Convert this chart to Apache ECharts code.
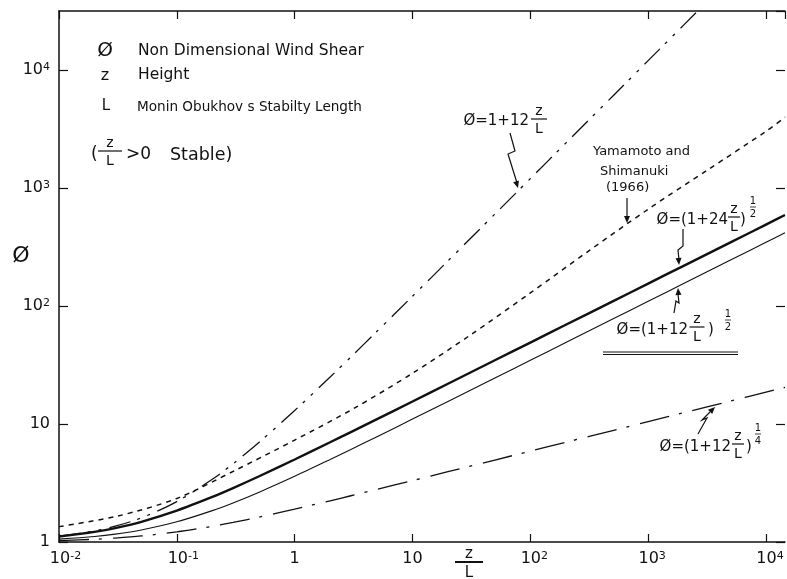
<!DOCTYPE html>
<html>
<head>
<meta charset="utf-8">
<script src="https://cdn.jsdelivr.net/npm/echarts@6/dist/echarts.min.js"></script>
<style>
html,body{margin:0;padding:0;background:#fff;}
#c{width:787px;height:579px;}
</style>
</head>
<body>
<div id="c"></div>
<script>
// ---- data ----
const zL        = [0.01, 0.02, 0.03, 0.05, 0.1, 0.2, 0.3, 0.5, 1, 2, 3, 5, 10, 20, 50, 100, 200, 500, 1000, 2000, 5000, 10000, 14500];
const linear12  = [1.12, 1.24, 1.36, 1.6, 2.2, 3.4, 4.6, 7, 13, 25, 37, 61, 121, 241, 601, 1201, 2401, 6001, 12001, 24001, 60001, null, null];
const sqrt24    = [1.114, 1.217, 1.311, 1.483, 1.844, 2.408, 2.864, 3.606, 5, 7, 8.544, 11, 15.52, 21.93, 34.66, 49, 69.29, 109.5, 154.9, 219.1, 346.4, 489.9, 589.9];
const sqrt12    = [1.058, 1.114, 1.166, 1.265, 1.483, 1.844, 2.145, 2.646, 3.606, 5, 6.083, 7.81, 11, 15.52, 24.52, 34.66, 49, 77.47, 109.5, 154.9, 244.9, 346.4, 417.1];
const quart12   = [1.029, 1.055, 1.080, 1.125, 1.218, 1.358, 1.465, 1.627, 1.899, 2.236, 2.466, 2.795, 3.317, 3.940, 4.952, 5.887, 7.0, 8.802, 10.46, 12.45, 15.65, 18.61, 20.42];
const yamZL     = [0.01, 0.0316, 0.1, 0.316, 1, 3.16, 10, 31.6, 100, 316, 1000, 3162, 10000, 14500];
const yamamoto  = [1.35, 1.66, 2.34, 4.07, 7.3, 13.5, 26.9, 57.5, 129, 295, 661, 1413, 3020, 3980];

const xTickValues = [0.01, 0.1, 1, 10, 100, 1000, 10000];
const xTickLabels = ['{p2|}10{s|-2}', '{p2|}10{s|-1}', '1', '10', '{p1|}10{s|2}', '{p1|}10{s|3}', '{p1|}10{s|4}'];
const yTickValues = [1, 10, 100, 1000, 10000];
const yTickLabels = ['1', '10', '10{s|2}', '10{s|3}', '10{s|4}'];

const FONT = '"DejaVu Sans", "Liberation Sans", sans-serif';
const INK = '#111';

function tickFmt(values, labels) {
  return function (v) {
    for (let i = 0; i < values.length; i++) {
      if (Math.abs(Math.log10(v) - Math.log10(values[i])) < 1e-6) return labels[i];
    }
    return '';
  };
}
const richSup = {
  s: { fontSize: 11, fontFamily: FONT, color: INK, verticalAlign: 'top', lineHeight: 11 },
  p1: { width: 8 },
  p2: { width: 13 }
};

function pairs(xs, ys) { return xs.map((x, i) => [x, ys[i]]); }

// ---- annotation helpers (text only) ----
function T(x, y, text, size, align) {
  return { type: 'text', x: x, y: y, silent: true,
    style: { text: text, fontSize: size, fontFamily: FONT, fill: INK,
             textAlign: align || 'left', textVerticalAlign: 'middle' } };
}
function P(points, w) {
  return { type: 'polyline', silent: true, shape: { points: points },
    style: { stroke: INK, lineWidth: w || 1.2, fill: null } };
}
function Frac(xc, yc, num, den, size, w, bw) {
  return [
    T(xc, yc - size * 0.55, num, size, 'center'),
    P([[xc - w / 2, yc], [xc + w / 2, yc]], bw || 1.2),
    T(xc, yc + size * 0.72, den, size, 'center')
  ];
}
function Head(tip, from) {
  const dx = tip[0] - from[0], dy = tip[1] - from[1];
  const len = Math.sqrt(dx * dx + dy * dy);
  const ux = dx / len, uy = dy / len;
  const bx = tip[0] - ux * 7, by = tip[1] - uy * 7;
  return { type: 'polygon', silent: true,
    shape: { points: [tip, [bx - uy * 3, by + ux * 3], [bx + uy * 3, by - ux * 3]] },
    style: { fill: INK } };
}

const graphics = [].concat(
  // key at top left
  [T(105, 51, 'Ø', 20, 'center'), T(138, 51, 'Non Dimensional Wind Shear', 15.5),
   T(105, 76, 'z', 16, 'center'), T(138, 75, 'Height', 15.5),
   T(106, 106, 'L', 15, 'center'), T(137, 107, 'Monin Obukhov s Stabilty Length', 13.6),
   T(91, 155, '(', 17)],
  Frac(110, 151, 'z', 'L', 14, 24),
  [T(126, 155, '>0', 17), T(170, 155, 'Stable)', 17.5)],
  // axis names
  [T(21, 256, 'Ø', 22, 'center')],
  Frac(469, 562, 'z', 'L', 15, 28, 2),
  // phi = 1 + 12 z/L
  [T(529, 121, 'Ø=1+12', 15, 'right')],
  Frac(539, 119, 'z', 'L', 14, 16),
  [P([[510, 133], [515, 151], [508, 154], [517, 183]]), Head([518, 188], [508, 154])],
  // Yamamoto and Shimanuki
  [T(593, 152, 'Yamamoto and', 13), T(600, 172, 'Shimanuki', 13), T(606, 188, '(1966)', 13),
   P([[627, 198], [627, 218]]), Head([627, 223], [627, 198])],
  // phi = (1 + 24 z/L)^1/2
  [T(728, 220, 'Ø=(1+24', 15, 'right')],
  Frac(734, 217, 'z', 'L', 14, 12),
  [T(740, 220, ')', 15)],
  Frac(753, 207, '1', '2', 10, 6, 0.8),
  [P([[683, 229], [683, 246], [678, 250], [679, 260]]), Head([679, 265], [678, 250])],
  // phi = (1 + 12 z/L)^1/2
  [T(688, 330, 'Ø=(1+12', 15, 'right')],
  Frac(697, 327, 'z', 'L', 14, 15),
  [T(708, 330, ')', 15)],
  Frac(728, 320, '1', '2', 10, 6, 0.8),
  [P([[603, 352], [738, 352]], 1.2), P([[603, 354.5], [738, 354.5]], 1.2),
   P([[674, 313], [676, 301], [679, 303], [678, 294]]), Head([678, 288], [679, 303])],
  // phi = (1 + 12 z/L)^1/4
  [T(731, 447, 'Ø=(1+12', 15, 'right')],
  Frac(738, 444, 'z', 'L', 14, 12),
  [T(746, 447, ')', 15)],
  Frac(758, 434, '1', '4', 10, 6, 0.8),
  [P([[698, 434], [707, 418], [702, 420], [710, 412]]), Head([715, 407], [702, 420])]
);

const axisLineStyle = { color: INK, width: 1.5 };
const tickStyle = { color: INK, width: 1.2 };

function logX(pos, showLabels) {
  return {
    type: 'log', logBase: 10, min: 0.01, max: 14500, position: pos,
    axisLine: { show: true, lineStyle: axisLineStyle },
    axisTick: { show: true, inside: true, length: 8, lineStyle: tickStyle },
    axisLabel: { show: showLabels, formatter: tickFmt(xTickValues, xTickLabels), rich: richSup,
                 color: INK, fontSize: 16, fontFamily: FONT, margin: 9, showMaxLabel: false },
    splitLine: { show: false }, minorTick: { show: false }
  };
}
function logY(pos, showLabels, showLine) {
  return {
    type: 'log', logBase: 10, min: 1, max: 31623, position: pos,
    axisLine: { show: showLine, lineStyle: axisLineStyle },
    axisTick: { show: true, inside: true, length: 9, lineStyle: tickStyle },
    axisLabel: { show: showLabels, formatter: tickFmt(yTickValues, yTickLabels), rich: richSup,
                 color: INK, fontSize: 16, fontFamily: FONT, margin: 9, showMaxLabel: false },
    splitLine: { show: false }, minorTick: { show: false }
  };
}

function line(data, lineStyle, xs) {
  return { type: 'line', data: pairs(xs || zL, data), showSymbol: false, symbol: 'none',
           smooth: 0.3, clip: true, silent: true, connectNulls: false,
           lineStyle: Object.assign({ color: INK }, lineStyle) };
}

const chart = echarts.init(document.getElementById('c'), null, { renderer: 'canvas' });
chart.setOption({
  backgroundColor: '#fff',
  animation: false,
  grid: { left: 59, right: 2, top: 11, bottom: 37 },
  xAxis: [logX('bottom', true), logX('top', false)],
  yAxis: [logY('left', true, true), logY('right', false, false)],
  series: [
    line(linear12, { width: 1.3, type: [22, 7, 3, 8, 3, 8] }),
    line(yamamoto, { width: 1.5, type: [5, 5] }, yamZL),
    line(sqrt24, { width: 2.4, type: 'solid' }),
    line(sqrt12, { width: 1.1, type: 'solid' }),
    line(quart12, { width: 1.3, type: [30, 10, 3, 11] })
  ],
  graphic: graphics
});
</script>
</body>
</html>
